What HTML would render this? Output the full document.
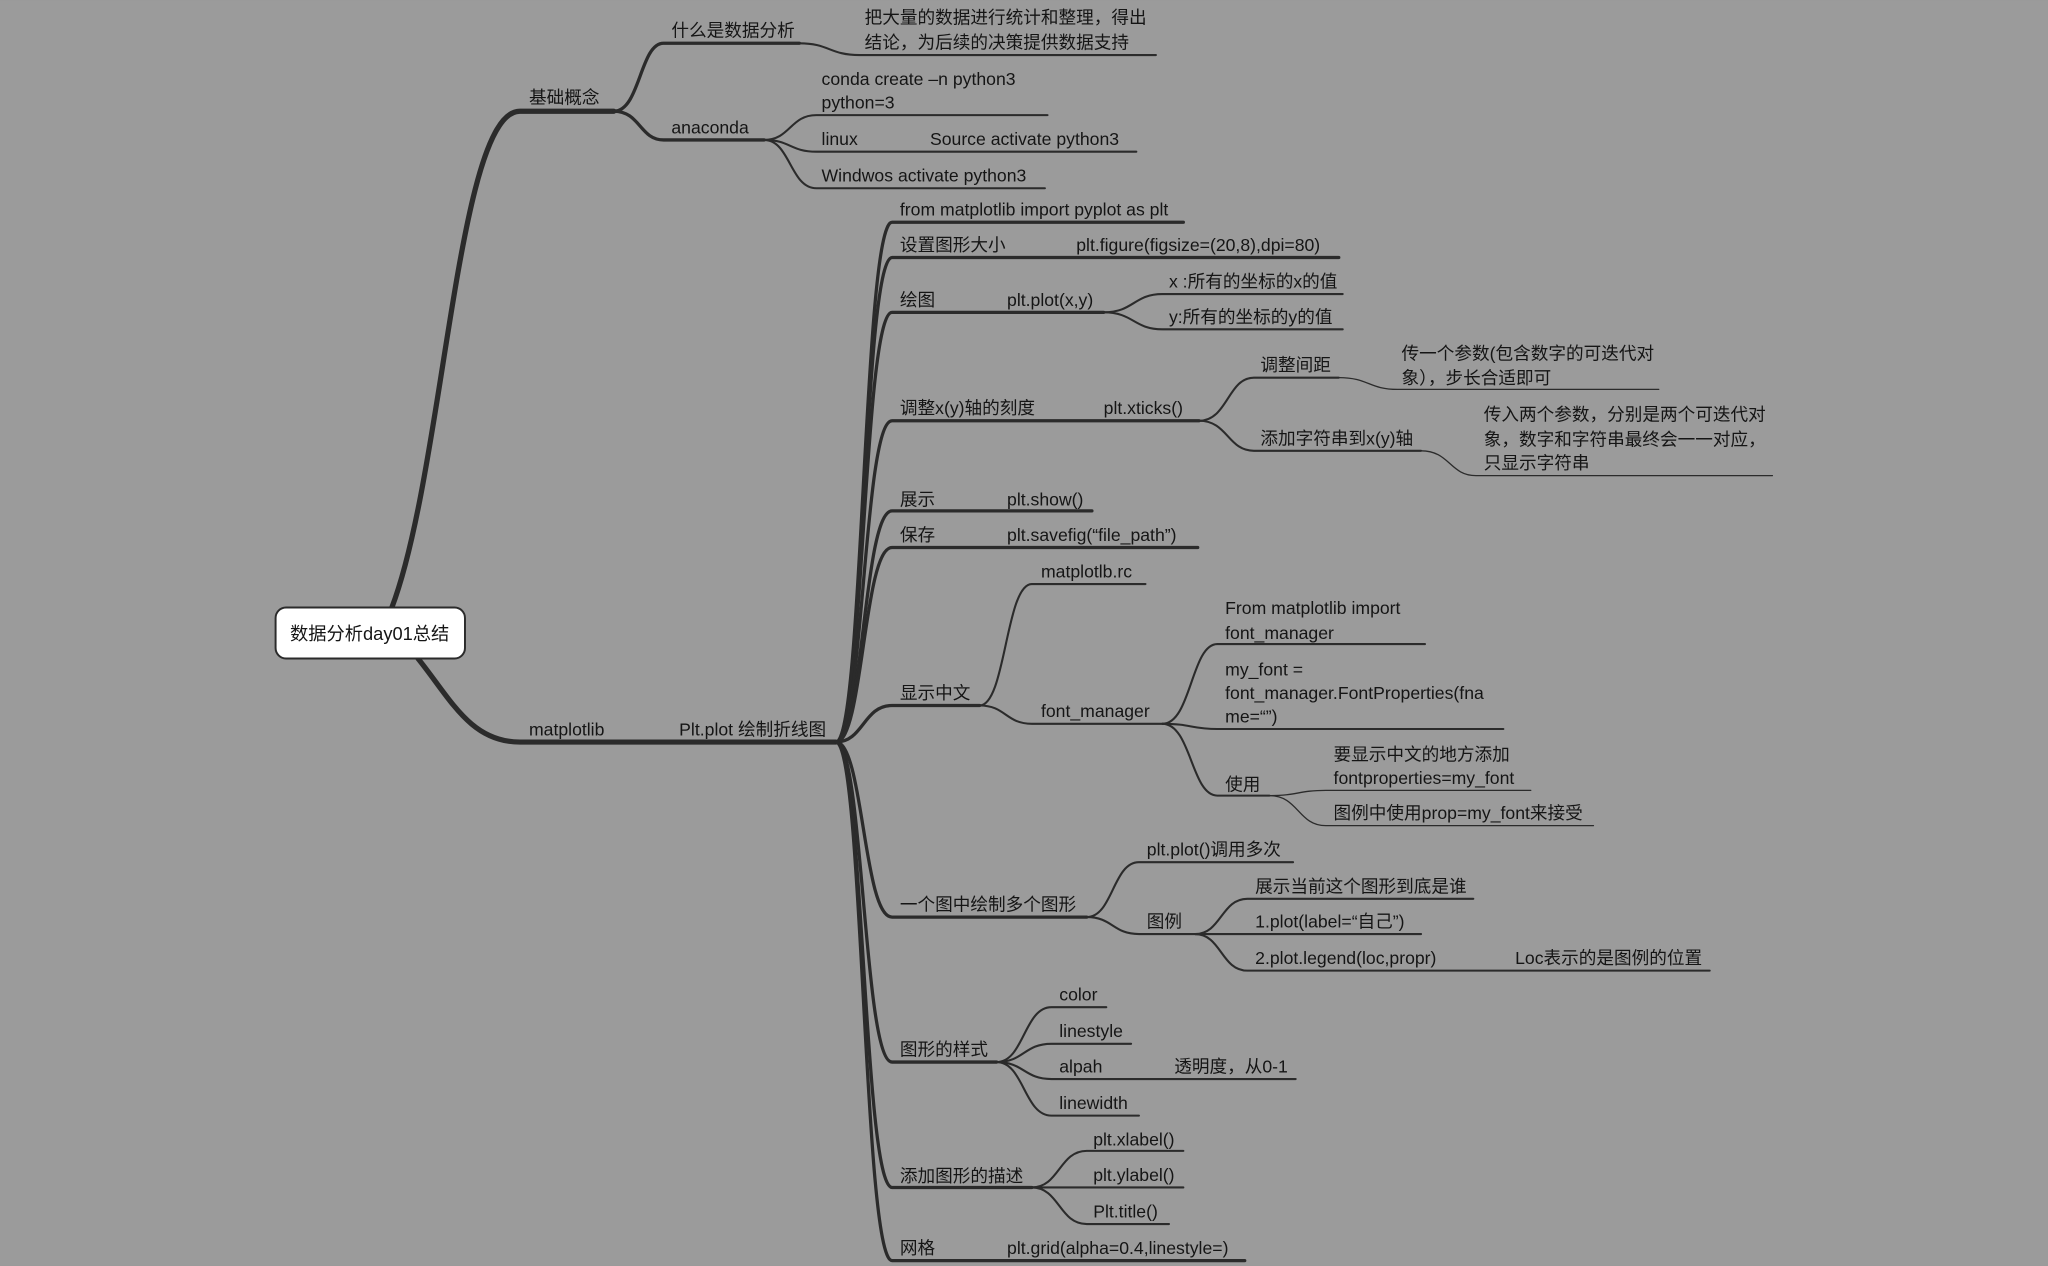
<!DOCTYPE html>
<html><head><meta charset="utf-8"><style>
html,body{margin:0;padding:0;background:#9b9b9b;}
svg{display:block}
text{font-family:"Liberation Sans","Noto Sans CJK SC",sans-serif;font-size:13.5px;fill:#151515}
path,line{fill:none;stroke:#2b2b2b;stroke-linecap:round}
</style></head><body>
<svg width="2048" height="1266" viewBox="0 0 1568 969" xmlns="http://www.w3.org/2000/svg">
<rect width="1568" height="969" fill="#9b9b9b"/>
<!-- root branches -->
<g stroke-width="4">
<path d="M300 465 C340 360 350 85 398 85 L470 85"/>
<path d="M320 504 C345 535 360 568 398 568 L640 568"/>
</g>
<!-- 基础概念 children -->
<g stroke-width="2.5">
<path d="M470 85 C490 85 490 33 508 33 L612 33"/>
<path d="M470 85 C490 85 490 107 508 107 L585 107"/>
<path d="M640 568 C661 568 661 170 683 170 L906 170"/>
<path d="M640 568 C661 568 661 197 683 197 L1025 197"/>
<path d="M640 568 C661 568 661 239 683 239 L845 239"/>
<path d="M640 568 C661 568 661 322 683 322 L918 322"/>
<path d="M640 568 C661 568 661 391 683 391 L836 391"/>
<path d="M640 568 C661 568 661 419 683 419 L917 419"/>
<path d="M640 568 C661 568 661 540 683 540 L750 540"/>
<path d="M640 568 C661 568 661 702 683 702 L832 702"/>
<path d="M640 568 C661 568 661 813 683 813 L763 813"/>
<path d="M640 568 C661 568 661 909 683 909 L790 909"/>
<path d="M640 568 C661 568 661 965 683 965 L953 965"/>
</g>
<g stroke-width="1.6">
<path d="M612 33 C635 33 635 42 658 42 L885 42"/>
<path d="M585 107 C605 107 605 88 625 88 L802 88"/>
<path d="M585 107 C605 107 605 116 625 116 L870 116"/>
<path d="M585 107 C605 107 605 144 625 144 L800 144"/>
<path d="M845 239 C868 239 868 225 890 225 L1028 225"/>
<path d="M845 239 C868 239 868 252 890 252 L1028 252"/>
<path d="M918 322 C940 322 940 289 960 289 L1025 289"/>
<path d="M918 322 C940 322 940 345 960 345 L1088 345"/>
<path d="M1025 289 C1048 289 1048 298 1070 298 L1270 298" stroke-width="1"/>
<path d="M1088 345 C1110 345 1110 364 1130 364 L1357 364" stroke-width="1"/>
<path d="M750 540 C770 540 770 447 790 447 L877 447"/>
<path d="M750 540 C770 540 770 554 790 554 L890 554"/>
<path d="M890 554 C912 554 912 493 932 493 L1091 493"/>
<path d="M890 554 C912 554 912 558 932 558 L1151 558"/>
<path d="M890 554 C912 554 912 609 932 609 L972 609"/>
<path d="M972 609 C994 609 994 605 1015 605 L1172 605" stroke-width="1"/>
<path d="M972 609 C994 609 994 632 1015 632 L1220 632" stroke-width="1"/>
<path d="M832 702 C852 702 852 660 872 660 L990 660"/>
<path d="M832 702 C852 702 852 715 872 715 L915 715"/>
<path d="M915 715 C935 715 935 688 955 688 L1128 688"/>
<path d="M915 715 C935 715 935 715 955 715 L1088 715"/>
<path d="M915 715 C935 715 935 743 955 743 L1309 743"/>
<path d="M763 813 C784 813 784 771 805 771 L847 771"/>
<path d="M763 813 C784 813 784 799 805 799 L866 799"/>
<path d="M763 813 C784 813 784 826 805 826 L992 826"/>
<path d="M763 813 C784 813 784 854 805 854 L872 854"/>
<path d="M790 909 C811 909 811 881 832 881 L906 881"/>
<path d="M790 909 C811 909 811 909 832 909 L906 909"/>
<path d="M790 909 C811 909 811 937 832 937 L895 937"/>
</g>
<!-- root node -->
<rect x="211" y="465" width="145" height="39" rx="8" fill="#fff" stroke="#2b2b2b" stroke-width="1.5"/>
<text x="283" y="490" text-anchor="middle" style="font-size:14px">数据分析day01总结</text>
<!-- labels -->
<text x="405" y="79">基础概念</text>
<text x="405" y="563">matplotlib</text>
<text x="520" y="563">Plt.plot 绘制折线图</text>
<text x="514" y="28">什么是数据分析</text>
<text x="662" y="18">把大量的数据进行统计和整理，得出</text>
<text x="662" y="37">结论，为后续的决策提供数据支持</text>
<text x="514" y="102">anaconda</text>
<text x="629" y="65">conda create –n python3</text>
<text x="629" y="83">python=3</text>
<text x="629" y="111">linux</text>
<text x="712" y="111">Source activate python3</text>
<text x="629" y="139">Windwos activate python3</text>
<text x="689" y="165">from matplotlib import pyplot as plt</text>
<text x="689" y="192">设置图形大小</text>
<text x="824" y="192">plt.figure(figsize=(20,8),dpi=80)</text>
<text x="689" y="234">绘图</text>
<text x="771" y="234">plt.plot(x,y)</text>
<text x="895" y="220">x :所有的坐标的x的值</text>
<text x="895" y="247">y:所有的坐标的y的值</text>
<text x="689" y="317">调整x(y)轴的刻度</text>
<text x="845" y="317">plt.xticks()</text>
<text x="965" y="284">调整间距</text>
<text x="1073" y="275">传一个参数(包含数字的可迭代对</text>
<text x="1073" y="294">象），步长合适即可</text>
<text x="965" y="340">添加字符串到x(y)轴</text>
<text x="1136" y="322">传入两个参数，分别是两个可迭代对</text>
<text x="1136" y="341">象，数字和字符串最终会一一对应，</text>
<text x="1136" y="359">只显示字符串</text>
<text x="689" y="387">展示</text>
<text x="771" y="387">plt.show()</text>
<text x="689" y="414">保存</text>
<text x="771" y="414">plt.savefig(“file_path”)</text>
<text x="689" y="535">显示中文</text>
<text x="797" y="442">matplotlb.rc</text>
<text x="797" y="549">font_manager</text>
<text x="938" y="470">From matplotlib import</text>
<text x="938" y="489">font_manager</text>
<text x="938" y="517">my_font =</text>
<text x="938" y="535">font_manager.FontProperties(fna</text>
<text x="938" y="553">me=“”)</text>
<text x="938" y="605">使用</text>
<text x="1021" y="582">要显示中文的地方添加</text>
<text x="1021" y="600">fontproperties=my_font</text>
<text x="1021" y="627">图例中使用prop=my_font来接受</text>
<text x="689" y="697">一个图中绘制多个图形</text>
<text x="878" y="655">plt.plot()调用多次</text>
<text x="878" y="710">图例</text>
<text x="961" y="683">展示当前这个图形到底是谁</text>
<text x="961" y="710">1.plot(label=“自己”)</text>
<text x="961" y="738">2.plot.legend(loc,propr)</text>
<text x="1160" y="738">Loc表示的是图例的位置</text>
<text x="689" y="808">图形的样式</text>
<text x="811" y="766">color</text>
<text x="811" y="794">linestyle</text>
<text x="811" y="821">alpah</text>
<text x="899" y="821">透明度，从0-1</text>
<text x="811" y="849">linewidth</text>
<text x="689" y="905">添加图形的描述</text>
<text x="837" y="877">plt.xlabel()</text>
<text x="837" y="904">plt.ylabel()</text>
<text x="837" y="932">Plt.title()</text>
<text x="689" y="960">网格</text>
<text x="771" y="960">plt.grid(alpha=0.4,linestyle=)</text>
</svg>
</body></html>
